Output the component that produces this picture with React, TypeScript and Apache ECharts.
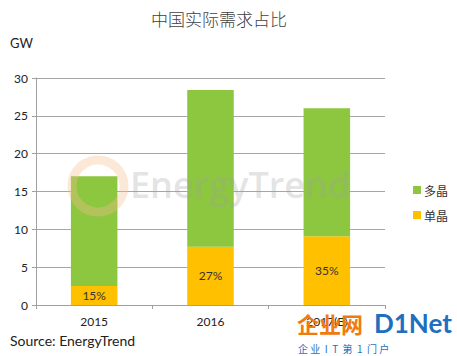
import React, { useEffect, useRef } from "react";
import * as echarts from "echarts";

const categories = ["2015", "2016", "2017(E)"];
const monoValues = [2.5, 7.7, 9.1];
const multiValues = [14.5, 20.7, 16.9];
const monoShareLabels = ["15%", "27%", "35%"];
const yTicks = [0, 5, 10, 15, 20, 25, 30];

const latin = "Lato, 'Open Sans', sans-serif";
const cjk = "'Noto Sans CJK SC', sans-serif";

export default function App() {
  const ref = useRef<HTMLDivElement>(null);
  useEffect(() => {
    if (!ref.current) return;
    const chart = echarts.init(ref.current, undefined, { renderer: "svg" });
    chart.setOption({
      animation: false,
      backgroundColor: "#ffffff",
      title: {
        text: "中国实际需求占比",
        left: 214,
        textAlign: "center",
        top: 5,
        textStyle: { fontFamily: cjk, fontSize: 17, fontWeight: 300, color: "#404040" },
      },
      graphic: [
        {
          type: "text",
          left: 10,
          top: 36,
          style: { text: "GW", font: `13px ${latin}`, fill: "#222" },
        },
        {
          type: "text",
          left: 10,
          top: 333,
          style: { text: "Source: EnergyTrend", font: `14px ${latin}`, fill: "#222" },
        },
        {
          type: "circle",
          shape: { cx: 98, cy: 186, r: 26 },
          z: 100,
          style: { fill: "none", stroke: "rgba(245,190,140,0.35)", lineWidth: 9 },
        },
        {
          type: "text",
          left: 130,
          top: 166,
          z: 100,
          style: {
            text: "EnergyTrend",
            font: `600 36px 'Open Sans', sans-serif`,
            fill: "rgba(160,160,160,0.3)",
          },
        },
        {
          type: "text",
          left: 297,
          top: 312,
          z: 100,
          style: { text: "企业网", font: `bold 22px ${cjk}`, fill: "#f07a10" },
        },
        {
          type: "text",
          left: 374,
          top: 310,
          z: 100,
          style: { text: "D1Net", font: `bold 26px ${latin}`, fill: "#1f6fc0" },
        },
        {
          type: "text",
          left: 298,
          top: 343,
          z: 100,
          style: { text: "企 业  I  T  第  1  门 户", font: `10px ${cjk}`, fill: "#1f6fc0" },
        },
      ],
      legend: {
        orient: "vertical",
        left: 408,
        top: 179,
        itemWidth: 8,
        itemHeight: 8,
        itemGap: 13,
        icon: "rect",
        data: ["多晶", "单晶"],
        textStyle: { fontFamily: cjk, fontSize: 12, color: "#333", padding: [0, 0, 0, -2] },
      },
      grid: { left: 36, right: 72, top: 78, bottom: 51, containLabel: false },
      xAxis: {
        type: "category",
        data: categories,
        axisLine: { lineStyle: { color: "#a0a0a0" } },
        axisTick: { show: true, alignWithLabel: false, length: 4, lineStyle: { color: "#a0a0a0" } },
        axisLabel: { fontFamily: latin, fontSize: 12, color: "#222", margin: 10 },
      },
      yAxis: {
        type: "value",
        min: 0,
        max: 30,
        interval: 5,
        axisLine: { show: true, lineStyle: { color: "#a0a0a0" } },
        axisTick: { show: true, length: 4, lineStyle: { color: "#a0a0a0" } },
        axisLabel: {
          fontFamily: latin,
          fontSize: 12,
          color: "#222",
          margin: 8,
          formatter: (v: number) => (yTicks.includes(v) ? String(v) : ""),
        },
        splitLine: { lineStyle: { color: "#a6a6a6" } },
      },
      series: [
        {
          name: "单晶",
          type: "bar",
          stack: "total",
          barWidth: "40%",
          data: monoValues,
          itemStyle: { color: "#ffc000" },
          label: {
            show: true,
            position: "inside",
            formatter: (p: any) => monoShareLabels[p.dataIndex],
            fontFamily: latin,
            fontSize: 12,
            color: "#333",
          },
        },
        {
          name: "多晶",
          type: "bar",
          stack: "total",
          barWidth: "40%",
          data: multiValues,
          itemStyle: { color: "#8dc63f" },
        },
      ],
    });
    return () => chart.dispose();
  }, []);
  return (
    <div
      ref={ref}
      style={{ position: "fixed", left: 0, top: 0, width: 457, height: 356 }}
    />
  );
}
